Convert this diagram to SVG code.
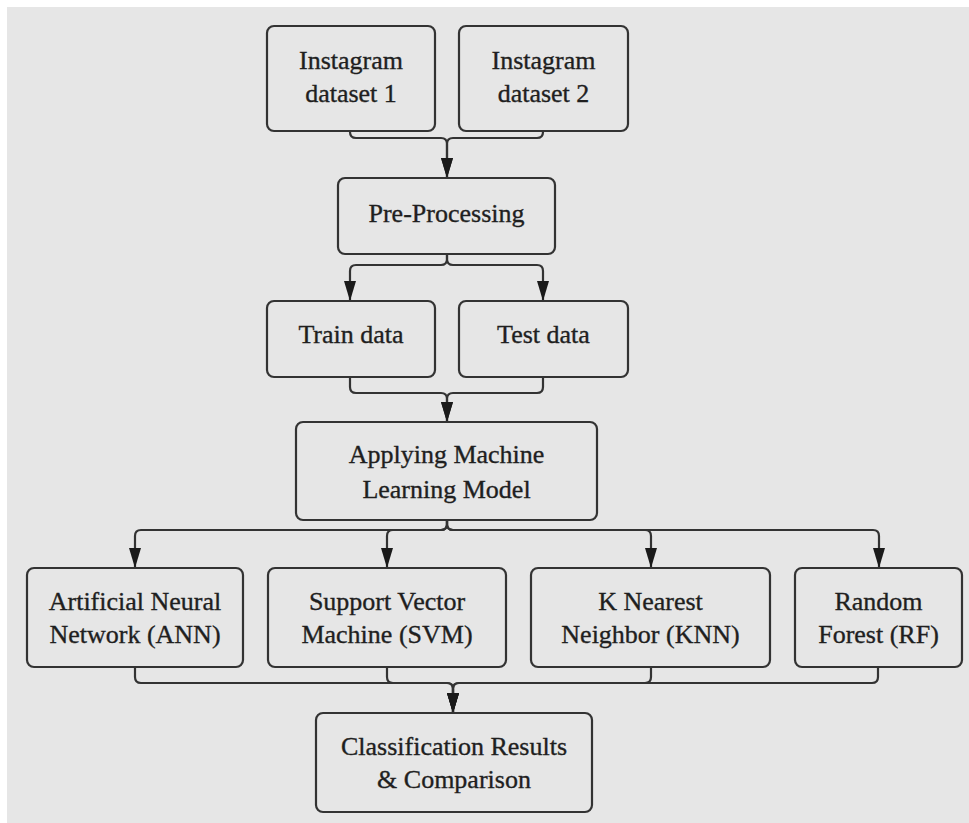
<svg xmlns="http://www.w3.org/2000/svg" width="969" height="823" viewBox="0 0 969 823">
<style>
.box{fill:#e6e6e6;stroke:#333;stroke-width:2.2}
.t{font-family:"Liberation Serif","Times New Roman",serif;font-size:26px;fill:#1f1f1f;stroke:#1f1f1f;stroke-width:0.35;text-anchor:middle}
.c{fill:none;stroke:#333;stroke-width:2.2}
</style>
<defs>
<marker id="ah" viewBox="0 0 20 12" refX="20" refY="6" markerWidth="20" markerHeight="12" markerUnits="userSpaceOnUse" orient="auto">
<path d="M0,0 L20,6 L0,12 z" fill="#1a1a1a"/>
</marker>
</defs>
<rect x="0" y="0" width="969" height="823" fill="#ffffff"/>
<rect x="7" y="7" width="962" height="816" fill="#e6e6e6"/>

<g id="connectors">
<path class="c" d="M350,131 V132 Q350,138 356,138 H441 Q447,138 447,144 V178" marker-end="url(#ah)"/>
<path class="c" d="M543,131 V132 Q543,138 537,138 H453 Q447,138 447,144 V178" marker-end="url(#ah)"/>
<path class="c" d="M447,254 V259 Q447,265 441,265 H356 Q350,265 350,271 V301" marker-end="url(#ah)"/>
<path class="c" d="M447,254 V259 Q447,265 453,265 H537 Q543,265 543,271 V301" marker-end="url(#ah)"/>
<path class="c" d="M350,377 V387 Q350,393 356,393 H441 Q447,393 447,399 V422" marker-end="url(#ah)"/>
<path class="c" d="M543,377 V387 Q543,393 537,393 H453 Q447,393 447,399 V422" marker-end="url(#ah)"/>
<path class="c" d="M447,520 V524 Q447,530 441,530 H141 Q135,530 135,536 V568" marker-end="url(#ah)"/>
<path class="c" d="M447,520 V524 Q447,530 441,530 H393 Q387,530 387,536 V568" marker-end="url(#ah)"/>
<path class="c" d="M447,520 V524 Q447,530 453,530 H645 Q651,530 651,536 V568" marker-end="url(#ah)"/>
<path class="c" d="M447,520 V524 Q447,530 453,530 H873 Q879,530 879,536 V568" marker-end="url(#ah)"/>
<path class="c" d="M135,667 V677 Q135,683 141,683 H447 Q453,683 453,689 V713" marker-end="url(#ah)"/>
<path class="c" d="M387,667 V677 Q387,683 393,683 H447 Q453,683 453,689 V713" marker-end="url(#ah)"/>
<path class="c" d="M651,667 V677 Q651,683 645,683 H459 Q453,683 453,689 V713" marker-end="url(#ah)"/>
<path class="c" d="M878,667 V677 Q878,683 872,683 H459 Q453,683 453,689 V713" marker-end="url(#ah)"/>
</g>

<g id="dataset1"><rect class="box" x="267" y="26" width="168" height="105" rx="7"/><text class="t" x="351" y="69">Instagram</text><text class="t" x="351" y="102">dataset 1</text></g>
<g id="dataset2"><rect class="box" x="459" y="26" width="169" height="105" rx="7"/><text class="t" x="543.5" y="69">Instagram</text><text class="t" x="543.5" y="102">dataset 2</text></g>
<g id="preprocessing"><rect class="box" x="338" y="178" width="217" height="76" rx="7"/><text class="t" x="446.5" y="222">Pre-Processing</text></g>
<g id="train"><rect class="box" x="267" y="301" width="168" height="76" rx="7"/><text class="t" x="351" y="343">Train data</text></g>
<g id="test"><rect class="box" x="459" y="301" width="169" height="76" rx="7"/><text class="t" x="543.5" y="343">Test data</text></g>
<g id="applying"><rect class="box" x="296" y="422" width="301" height="98" rx="7"/><text class="t" x="446.5" y="463">Applying Machine</text><text class="t" x="446.5" y="498">Learning Model</text></g>
<g id="ann"><rect class="box" x="27" y="568" width="216" height="99" rx="7"/><text class="t" x="135" y="610">Artificial Neural</text><text class="t" x="135" y="643">Network (ANN)</text></g>
<g id="svm"><rect class="box" x="268" y="568" width="238" height="99" rx="7"/><text class="t" x="387" y="610">Support Vector</text><text class="t" x="387" y="643">Machine (SVM)</text></g>
<g id="knn"><rect class="box" x="531" y="568" width="239" height="99" rx="7"/><text class="t" x="650.5" y="610">K Nearest</text><text class="t" x="650.5" y="643">Neighbor (KNN)</text></g>
<g id="rf"><rect class="box" x="795" y="568" width="167" height="99" rx="7"/><text class="t" x="878.5" y="610">Random</text><text class="t" x="878.5" y="643">Forest (RF)</text></g>
<g id="classification"><rect class="box" x="316" y="713" width="276" height="99" rx="7"/><text class="t" x="454" y="755">Classification Results</text><text class="t" x="454" y="788">&amp; Comparison</text></g>
</svg>
